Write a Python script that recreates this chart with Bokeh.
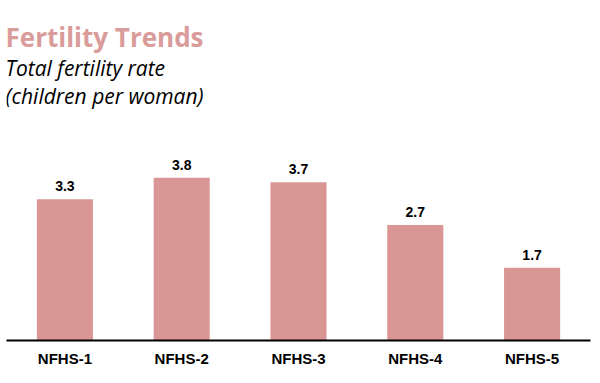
from bokeh.plotting import figure
from bokeh.models import ColumnDataSource, FactorRange, Range1d, Label
from bokeh.core.properties import value
from bokeh.embed import file_html
from bokeh.resources import INLINE

rounds = ["NFHS-1", "NFHS-2", "NFHS-3", "NFHS-4", "NFHS-5"]
tfr = [3.3, 3.8, 3.7, 2.7, 1.7]
tfr_labels = ["3.3", "3.8", "3.7", "2.7", "1.7"]

title_text = "Fertility Trends"
subtitle_lines = ["Total fertility rate", "(children per woman)"]

BAR = "#D99694"
W, H = 596, 380
LEFT, RIGHT = 6, 6
BASE = 340            # page row of the baseline (frame bottom)
BOTTOM = H - BASE
px_per_unit = 42.8
y_end = BASE / px_per_unit

src = ColumnDataSource(dict(x=rounds, y=tfr, lab=tfr_labels))

p = figure(width=W, height=H, output_backend="svg", toolbar_location=None,
           x_range=FactorRange(*rounds, range_padding=0),
           y_range=Range1d(0, y_end),
           min_border_left=LEFT, min_border_right=RIGHT, min_border_top=0,
           min_border_bottom=BOTTOM)
p.outline_line_color = None
p.background_fill_color = "white"
p.border_fill_color = "white"
p.grid.visible = False
p.yaxis.visible = False

p.vbar(x="x", top="y", width=0.48, source=src, fill_color=BAR, line_color=None)
p.text(x="x", y="y", text="lab", source=src, text_align="center",
       text_baseline="alphabetic", y_offset=-13,
       text_font=value("Liberation Sans"), text_font_style="bold",
       text_font_size="14px", text_color="black")

ax = p.xaxis[0]
ax.axis_line_width = 2
ax.axis_line_color = "black"
ax.major_tick_line_color = None
ax.minor_tick_line_color = None
ax.major_tick_out = 0
ax.major_tick_in = 0
ax.major_label_standoff = 9
ax.major_label_text_font = "Liberation Sans"
ax.major_label_text_font_style = "bold"
ax.major_label_text_font_size = "15px"
ax.major_label_text_color = "black"

def y_at(page_y):
    return (BASE - page_y) / px_per_unit

def x_at(page_x):
    return page_x - LEFT

p.add_layout(Label(x=x_at(5), y=y_at(36.5), x_units="screen", y_units="data",
                   text=title_text, text_font="Open Sans", text_font_style="bold",
                   text_font_size="26px", text_color="#DA9C9A",
                   text_baseline="alphabetic"))
p.add_layout(Label(x=x_at(5), y=y_at(67), x_units="screen", y_units="data",
                   text=subtitle_lines[0], text_font="Open Sans", text_font_style="italic",
                   text_font_size="21px", text_color="black",
                   text_baseline="alphabetic"))
p.add_layout(Label(x=x_at(5), y=y_at(95), x_units="screen", y_units="data",
                   text=subtitle_lines[1], text_font="Open Sans", text_font_style="italic",
                   text_font_size="21px", text_color="black",
                   text_baseline="alphabetic"))

open("out.html", "w").write(file_html(p, INLINE))
